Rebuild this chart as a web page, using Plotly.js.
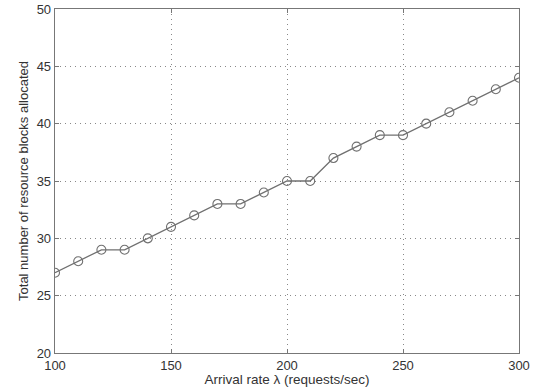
<!DOCTYPE html>
<html><head><meta charset="utf-8">
<script src="https://cdn.plot.ly/plotly-3.0.1.min.js"></script>
<style>html,body{margin:0;padding:0;background:#fff;}#plot{width:536px;height:387px;}</style>
</head><body><div id="plot"></div>
<script>
const arrivalRate = [100,110,120,130,140,150,160,170,180,190,200,210,220,230,240,250,260,270,280,290,300];
const resourceBlocks = [27,28,29,29,30,31,32,33,33,34,35,35,37,38,39,39,40,41,42,43,44];
const xTicks = [100,150,200,250,300];
const yTicks = [20,25,30,35,40,45,50];

const trace = {
  x: arrivalRate, y: resourceBlocks, type: 'scatter', mode: 'lines+markers',
  line: {color: '#707070', width: 1.3},
  marker: {symbol: 'circle-open', size: 9, color: '#707070', line: {width: 1.1, color: '#707070'}},
  showlegend: false
};
const axisCommon = {
  showline: true, mirror: 'ticks', linecolor: '#777', linewidth: 1.3,
  ticks: 'inside', ticklen: 4, tickcolor: '#777',
  showgrid: true, gridcolor: '#888', griddash: '1px,4px', gridwidth: 1,
  zeroline: false, tickfont: {family: 'Liberation Sans, Arial', size: 13, color: '#333'}
};
const layout = {
  width: 536, height: 387,
  margin: {l: 55, r: 17, t: 9, b: 34},
  paper_bgcolor: '#fff', plot_bgcolor: '#fff',
  xaxis: Object.assign({}, axisCommon, {range: [100, 300], tickvals: xTicks, ticktext: xTicks.map(String),
    title: {text: 'Arrival rate λ (requests/sec)', standoff: 3, font: {family: 'Liberation Sans, Arial', size: 13.5, color: '#333'}}}),
  yaxis: Object.assign({}, axisCommon, {range: [20, 50], tickvals: yTicks, ticktext: yTicks.map(String),
    title: {text: 'Total number of resource blocks allocated', standoff: 5, font: {family: 'Liberation Sans, Arial', size: 13, color: '#333'}}})
};
Plotly.newPlot('plot', [trace], layout, {displayModeBar: false, staticPlot: true});
</script></body></html>
